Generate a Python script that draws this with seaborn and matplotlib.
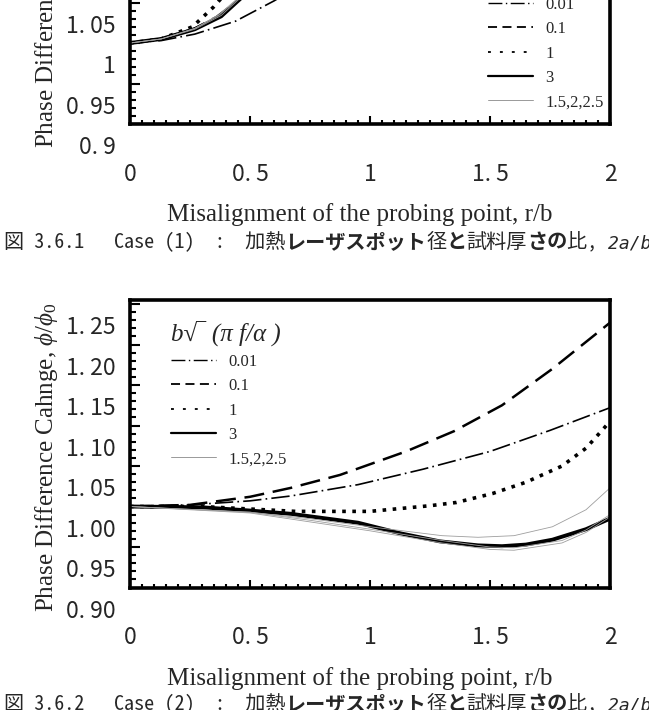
import pandas as pd
import seaborn as sns
import matplotlib.pyplot as plt
from matplotlib import transforms
from matplotlib.lines import Line2D
from matplotlib.ticker import FixedLocator, MultipleLocator

# parameter b*sqrt(pi f / alpha) for each curve
levels = ["0.01", "0.1", "1", "3", "1.5", "2", "2.5"]

# Case (1): only the lower strip of this panel is on the page
c1_r_001 = [0, 0.13, 0.27, 0.44, 0.60, 0.68]
c1_v_001 = [1.0, 1.003, 1.011, 1.027, 1.052, 1.066]
c1_r_01 = [0, 0.13, 0.27, 0.36, 0.44, 0.50]
c1_v_01 = [1.0, 1.005, 1.018, 1.032, 1.050, 1.066]
c1_r_1 = [0, 0.13, 0.26, 0.30, 0.35, 0.40]
c1_v_1 = [1.0, 1.005, 1.020, 1.031, 1.045, 1.062]
c1_r_3 = [0, 0.13, 0.27, 0.38, 0.45, 0.50]
c1_v_3 = [1.0, 1.005, 1.017, 1.033, 1.052, 1.065]
c1_r_15 = [0, 0.13, 0.27, 0.37, 0.44, 0.49]
c1_v_15 = [1.0, 1.005, 1.018, 1.035, 1.053, 1.066]
c1_r_2 = [0, 0.13, 0.27, 0.37, 0.44, 0.49]
c1_v_2 = [1.0, 1.005, 1.018, 1.034, 1.052, 1.065]
c1_r_25 = [0, 0.13, 0.27, 0.38, 0.45, 0.50]
c1_v_25 = [1.0, 1.005, 1.017, 1.034, 1.053, 1.066]

# Case (2): full panel
c2_r_001 = [0, 0.25, 0.5, 0.67, 0.95, 1.22, 1.5, 1.75, 2.0]
c2_v_001 = [1.0, 1.002, 1.007, 1.013, 1.027, 1.046, 1.068, 1.094, 1.122]
c2_r_01 = [0, 0.25, 0.5, 0.67, 0.875, 1.15, 1.35, 1.55, 1.76, 2.0]
c2_v_01 = [1.0, 1.002, 1.012, 1.023, 1.039, 1.068, 1.093, 1.125, 1.170, 1.227]
c2_r_1 = [0, 0.3, 0.69, 1.0, 1.25, 1.36, 1.51, 1.65, 1.8, 1.9, 2.0]
c2_v_1 = [1.0, 1.0, 0.994, 0.994, 1.001, 1.005, 1.016, 1.030, 1.050, 1.072, 1.105]
c2_r_3 = [0, 0.3, 0.5, 0.67, 0.95, 1.125, 1.29, 1.45, 1.55, 1.65, 1.76, 1.9, 2.0]
c2_v_3 = [1.0, 0.999, 0.995, 0.991, 0.980, 0.967, 0.957, 0.952, 0.951, 0.953, 0.959, 0.972, 0.985]
c2_r_15 = [0, 0.5, 0.75, 1.0, 1.3, 1.45, 1.6, 1.76, 1.9, 2.0]
c2_v_15 = [1.0, 0.993, 0.985, 0.975, 0.964, 0.962, 0.964, 0.975, 0.996, 1.023]
c2_r_2 = [0, 0.5, 0.75, 1.0, 1.3, 1.5, 1.6, 1.8, 1.9, 2.0]
c2_v_2 = [1.0, 0.992, 0.981, 0.970, 0.955, 0.947, 0.946, 0.955, 0.968, 0.987]
c2_r_25 = [0, 0.5, 0.75, 1.0, 1.3, 1.5, 1.6, 1.8, 1.9, 2.0]
c2_v_25 = [1.0, 0.993, 0.983, 0.972, 0.958, 0.950, 0.949, 0.958, 0.971, 0.990]

xticks = [0, 0.5, 1, 1.5, 2]
xtick_labels = ["0", "0. 5", "1", "1. 5", "2"]
yticks = [0.90, 0.95, 1.00, 1.05, 1.10, 1.15, 1.20, 1.25]
ytick_labels_1 = ["0. 9", "0. 95", "1", "1. 05", "1. 1", "1. 15", "1. 2", "1. 25"]
ytick_labels_2 = ["0. 90", "0. 95", "1. 00", "1. 05", "1. 10", "1. 15", "1. 20", "1. 25"]

legend_labels = ["0.01", "0.1", "1", "3", "1.5,2,2.5"]
xlabel = "Misalignment of the probing point, r/b"
ylabel = r"Phase Difference Cahnge, $\phi/\phi_0$"
legend_title = "b√‾ (π f/α )"

caption_1 = [("図 3.6.1", "normal", "normal")]
caption_1b = [("Case (1)  :  加熱", "normal", "normal"), ("レーザスポット", "bold", "normal"),
              ("径", "normal", "normal"), ("と", "bold", "normal"), ("試料厚", "normal", "normal"),
              ("さの", "bold", "normal"), ("比, ", "normal", "normal"), ("2a/b = 1", "normal", "italic")]
caption_2 = [("図 3.6.2", "normal", "normal")]
caption_2b = [("Case (2)  :  加熱", "normal", "normal"), ("レーザスポット", "bold", "normal"),
              ("径", "normal", "normal"), ("と", "bold", "normal"), ("試料厚", "normal", "normal"),
              ("さの", "bold", "normal"), ("比, ", "normal", "normal"), ("2a/b = 4", "normal", "italic")]


def long_df(series):
    rows = []
    for lev, rr, vv in series:
        for r, v in zip(rr, vv):
            rows.append({"level": lev, "r": r, "v": v})
    return pd.DataFrame(rows)


df1 = long_df([("0.01", c1_r_001, c1_v_001), ("0.1", c1_r_01, c1_v_01), ("1", c1_r_1, c1_v_1),
               ("3", c1_r_3, c1_v_3), ("1.5", c1_r_15, c1_v_15), ("2", c1_r_2, c1_v_2),
               ("2.5", c1_r_25, c1_v_25)])
df2 = long_df([("0.01", c2_r_001, c2_v_001), ("0.1", c2_r_01, c2_v_01), ("1", c2_r_1, c2_v_1),
               ("3", c2_r_3, c2_v_3), ("1.5", c2_r_15, c2_v_15), ("2", c2_r_2, c2_v_2),
               ("2.5", c2_r_25, c2_v_25)])

sns.set_style("ticks")
plt.rcParams["font.family"] = ["Liberation Serif", "DejaVu Sans"]
plt.rcParams["mathtext.fontset"] = "custom"
plt.rcParams["mathtext.rm"] = "Liberation Serif"
plt.rcParams["mathtext.it"] = "Liberation Serif:italic"

palette = {"0.01": "black", "0.1": "black", "1": "black", "3": "black",
           "1.5": "0.62", "2": "0.62", "2.5": "0.62"}
dashes = {"0.01": (11.0, 2.5, 1.0, 2.5), "0.1": (8.0, 3.5), "1": (1.0, 1.8), "3": "",
          "1.5": "", "2": "", "2.5": ""}
sizes = {"0.01": 1.2, "0.1": 1.8, "1": 2.6, "3": 2.8, "1.5": 0.6, "2": 0.6, "2.5": 0.6}

tick_font = ["Noto Sans CJK JP", "DejaVu Sans"]
cap_font = ["Noto Sans Mono CJK JP", "Noto Sans CJK JP", "DejaVu Sans Mono"]

W, H = 649, 710
fig = plt.figure(figsize=(W / 100, H / 100), dpi=100)


def px_axes(left, top, right, bottom):
    return fig.add_axes([left / W, 1 - bottom / H, (right - left) / W, (bottom - top) / H])


def draw_panel(ax, df, ylabels, leg_loc, leg_anchor):
    sns.lineplot(data=df, x="r", y="v", hue="level", style="level", size="level",
                 hue_order=levels, style_order=levels, size_order=levels,
                 palette=palette, dashes=dashes, sizes=sizes,
                 estimator=None, sort=False, legend=False, ax=ax)
    ax.set_xlim(0, 2)
    ax.set_ylim(0.90, 1.255)
    ax.xaxis.set_major_locator(FixedLocator(xticks))
    ax.xaxis.set_minor_locator(MultipleLocator(0.05))
    ax.yaxis.set_major_locator(FixedLocator(yticks))
    ax.yaxis.set_minor_locator(MultipleLocator(0.01))
    ax.tick_params(which="both", direction="in", top=False, right=False, width=1.5, color="black")
    ax.tick_params(axis="y", which="major", length=7, pad=10)
    ax.tick_params(axis="y", which="minor", length=4)
    ax.tick_params(axis="x", which="major", length=6, pad=28)
    ax.tick_params(axis="x", which="minor", length=3)
    ax.set_xticklabels(xtick_labels, family=tick_font, fontsize=16.5)
    ax.set_yticklabels(ylabels, family=tick_font, fontsize=16.5)
    # the scanned figure prints the y labels half a step low
    shift = transforms.ScaledTranslation(0, -0.21, fig.dpi_scale_trans)
    for t in ax.yaxis.get_major_ticks():
        t.label1.set_transform(t.label1.get_transform() + shift)
    for s in ax.spines.values():
        s.set_visible(True)
        s.set_linewidth(2.6)
        s.set_color("black")
    ax.set_xlabel(xlabel, fontsize=18)
    ax.set_ylabel(ylabel, fontsize=18)
    ax.xaxis.set_label_coords(0.479, -0.275)
    ax.yaxis.set_label_coords(-0.145, 0.454)

    handles = [
        Line2D([], [], color="black", lw=1.0, dashes=(10, 2.5, 1, 2.5)),
        Line2D([], [], color="black", lw=1.3, dashes=(5, 3)),
        Line2D([], [], color="black", lw=1.3, dashes=(1.6, 5)),
        Line2D([], [], color="black", lw=1.6),
        Line2D([], [], color="0.6", lw=0.7),
    ]
    ax.legend(handles, legend_labels, loc=leg_loc, bbox_to_anchor=leg_anchor,
              frameon=False, borderpad=0, borderaxespad=0, handlelength=2.7,
              handletextpad=0.75, labelspacing=0.5, alignment="left",
              prop={"family": "Liberation Serif", "size": 12},
              title=legend_title,
              title_fontproperties={"family": "Liberation Serif", "style": "italic", "size": 18})


def caption(ax, x_px, y_px, parts):
    prev = None
    for txt, weight, style in parts:
        fam = ["DejaVu Sans Mono"] if style == "italic" else cap_font
        size = 13 if style == "italic" else 14.5
        if prev is None:
            prev = fig.text(x_px / W, 1 - y_px / H, txt, family=fam, fontsize=size,
                            weight=weight, style=style, ha="left", va="center")
        else:
            prev = ax.annotate(txt, xy=(1, 0), xycoords=prev, ha="left", va="bottom",
                               family=fam, fontsize=size, weight=weight, style=style,
                               annotation_clip=False)


ax1 = px_axes(130, 124 - 287.5, 610, 124)
ax2 = px_axes(130, 300, 610, 587.5)

draw_panel(ax1, df1, ytick_labels_1, "lower left", (0.746, 0.048))
draw_panel(ax2, df2, ytick_labels_2, "upper left", (0.085, 0.93))

caption(ax2, 4, 242, caption_1)
caption(ax2, 114, 242, caption_1b)
caption(ax2, 4, 704, caption_2)
caption(ax2, 114, 704, caption_2b)

fig.savefig("out.png", dpi=100)
